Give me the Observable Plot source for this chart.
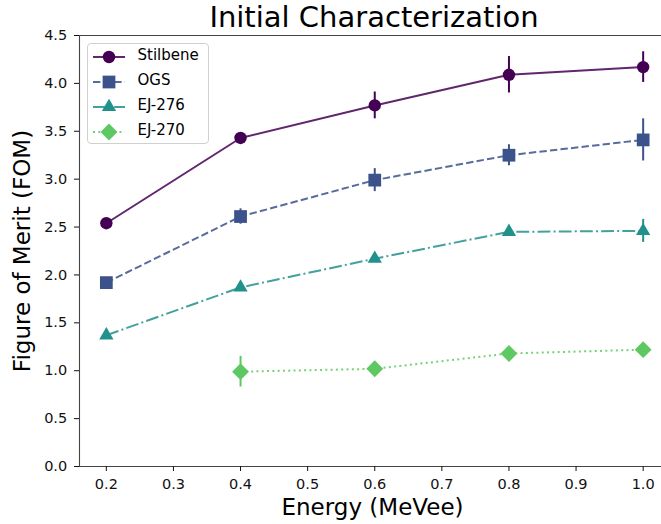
<!DOCTYPE html>
<html>
<head>
<meta charset="utf-8">
<script src="https://cdn.jsdelivr.net/npm/d3@7"></script>
<script src="https://cdn.jsdelivr.net/npm/@observablehq/plot@0.6"></script>
<style>
  html, body { margin: 0; padding: 0; background: white; overflow: hidden; }
  #wrap { position: relative; width: 661px; height: 524px; font-family: "DejaVu Sans", sans-serif; color: #000; background: white; }
  .abs { position: absolute; white-space: nowrap; z-index: 3; }
  #title { left: 374px; top: 2.5px; font-size: 29px; line-height: 29px; transform: translateX(-50%); }
  #xlabel { left: 372.5px; top: 496.3px; font-size: 23px; line-height: 23px; transform: translateX(-50%); }
  #ylabel { left: 22px; top: 250.5px; font-size: 23px; line-height: 23px; transform: translate(-50%, -50%) rotate(-90deg); }
  #chart { position: absolute; left: 0; top: 24px; z-index: 1; }
  #legend { position: absolute; z-index: 4; left: 86.5px; top: 42.5px; width: 120px; height: 99px; border: 1px solid #d0d0d0; border-radius: 4px; background: rgba(255,255,255,0.85); }
  .lrow { position: absolute; left: 0; height: 20px; width: 120px; }
  .lrow svg { position: absolute; left: 0; top: 0; }
  .lrow span { position: absolute; left: 50px; top: 1.5px; font-size: 15px; line-height: 15px; }
</style>
</head>
<body>
<div id="wrap">
  <div id="chart"></div>
  <div id="title" class="abs">Initial Characterization</div>
  <div id="xlabel" class="abs">Energy (MeVee)</div>
  <div id="ylabel" class="abs">Figure of Merit (FOM)</div>
  <div id="legend"></div>
</div>
<script>
// ---- data ----
const energy = [0.2, 0.4, 0.6, 0.8, 1.0];
const seriesNames = ["Stilbene", "OGS", "EJ-276", "EJ-270"];
const stilbeneFOM = [2.54, 3.43, 3.77, 4.09, 4.17];
const stilbeneErr = [0.02, 0.05, 0.14, 0.19, 0.16];
const ogsFOM = [1.92, 2.61, 2.99, 3.25, 3.41];
const ogsErr = [0.02, 0.08, 0.12, 0.11, 0.22];
const ej276FOM = [1.37, 1.87, 2.17, 2.45, 2.46];
const ej276Err = [0.02, 0.03, 0.04, 0.04, 0.12];
const ej270FOM = [null, 0.99, 1.02, 1.18, 1.22];
const ej270Err = [null, 0.16, 0.05, 0.05, 0.04];
const xTicks = [0.2, 0.3, 0.4, 0.5, 0.6, 0.7, 0.8, 0.9, 1.0];
const yTicks = [0.0, 0.5, 1.0, 1.5, 2.0, 2.5, 3.0, 3.5, 4.0, 4.5];
const xDomain = [0.16, 1.04];
const yDomain = [0, 4.5];

// ---- styles per series ----
const colors = ["#440154", "#3b528b", "#21918c", "#5ec962"];
const symbols = ["circle", "square", "triangle", "diamond2"];
const radii = [6.2, 7.2, 5.3, 7.6];
const dashes = [null, "7.4,3.2", "12.8,3.2,2,3.2", "2,3.3"];

const values = [stilbeneFOM, ogsFOM, ej276FOM, ej270FOM];
const errors = [stilbeneErr, ogsErr, ej276Err, ej270Err];

const series = seriesNames.map((name, i) => ({
  name,
  rows: energy.map((e, j) => ({
    x: e,
    y: values[i][j],
    lo: values[i][j] == null ? null : values[i][j] - errors[i][j],
    hi: values[i][j] == null ? null : values[i][j] + errors[i][j]
  })),
  color: colors[i], symbol: symbols[i], r: radii[i], dash: dashes[i]
}));

const marks = [];
for (const s of series) {
  marks.push(Plot.line(s.rows.filter(d => d.y != null), {
    x: "x", y: "y", stroke: s.color, strokeWidth: 2, strokeOpacity: 0.85,
    strokeDasharray: s.dash || undefined, strokeLinecap: "butt", strokeLinejoin: "round"
  }));
  marks.push(Plot.ruleX(s.rows.filter(d => d.y != null), {
    x: "x", y1: "lo", y2: "hi", stroke: s.color, strokeWidth: 2
  }));
  marks.push(Plot.dot(s.rows.filter(d => d.y != null), {
    x: "x", y: "y", symbol: s.symbol, r: s.r, fill: s.color, stroke: "none"
  }));
}

const chart = Plot.plot({
  width: 661, height: 500,
  marginTop: 11, marginBottom: 58, marginLeft: 79, marginRight: 0,
  style: { fontFamily: "DejaVu Sans", fontSize: "14.5px", color: "#111", background: "transparent" },
  x: { domain: xDomain, range: [79, 669.5] },
  y: { domain: yDomain },
  marks: [
    Plot.ruleY(yDomain, { stroke: "#444", strokeWidth: 1.1 }),
    Plot.ruleX([xDomain[0]], { stroke: "#444", strokeWidth: 1.1 }),
    Plot.axisX({ ticks: xTicks, tickFormat: d => d.toFixed(1), tickSize: 5, tickPadding: 7.5, fontSize: 14.5, label: null }),
    Plot.axisY({ ticks: yTicks, tickFormat: d => d.toFixed(1), tickSize: 5, tickPadding: 7.3, fontSize: 14.5, label: null }),
    ...marks
  ]
});
document.getElementById("chart").appendChild(chart);

// ---- legend ----
const legend = d3.select("#legend");
const symbolMap = { circle: d3.symbolCircle, square: d3.symbolSquare, triangle: d3.symbolTriangle, diamond2: d3.symbolDiamond2 };
series.forEach((s, i) => {
  const row = legend.append("div").attr("class", "lrow").style("top", (3 + i * 25) + "px");
  const svg = row.append("svg").attr("width", 45).attr("height", 20);
  svg.append("line").attr("x1", 5).attr("x2", 37).attr("y1", 10).attr("y2", 10)
    .attr("stroke", s.color).attr("stroke-width", 2).attr("stroke-opacity", 0.85)
    .attr("stroke-dasharray", s.dash).attr("stroke-linecap", "butt");
  svg.append("path").attr("transform", "translate(21,10)")
    .attr("d", d3.symbol(symbolMap[s.symbol], Math.PI * s.r * s.r)())
    .attr("fill", s.color);
  row.append("span").text(s.name);
});
</script>
</body>
</html>
